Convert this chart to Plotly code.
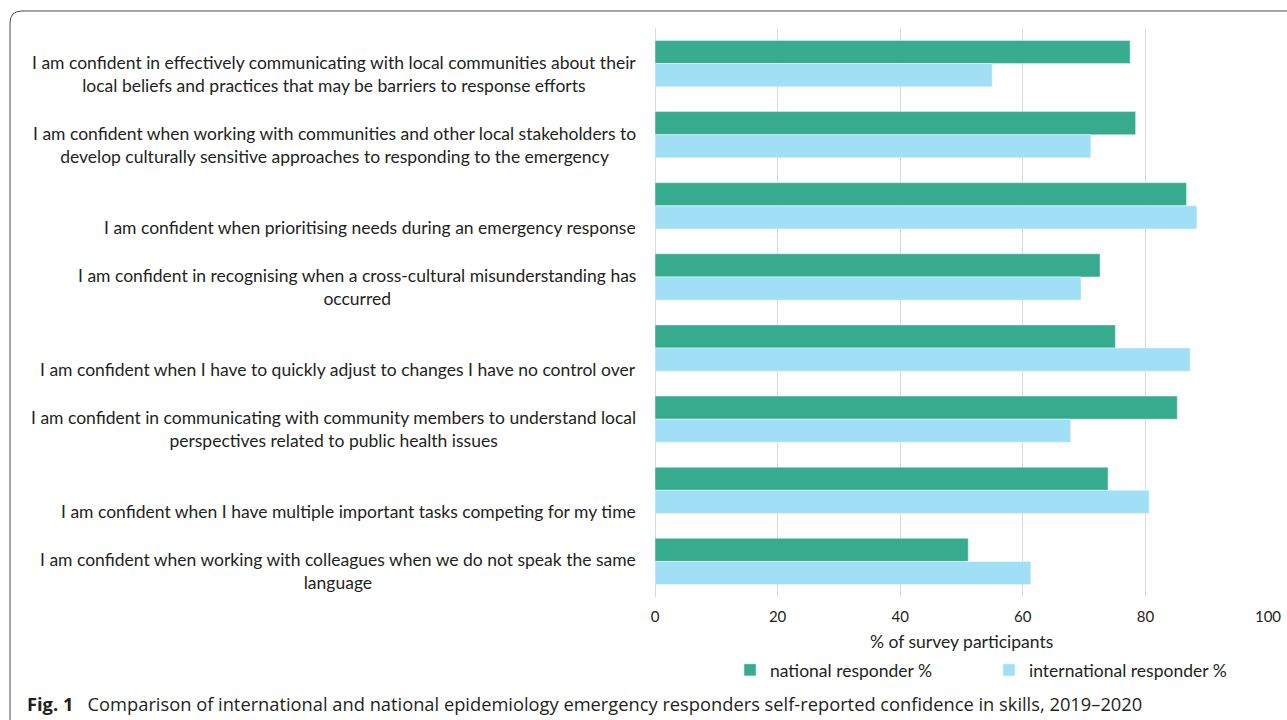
import plotly.graph_objects as go

categories = [
    "I am confident in effectively communicating with local communities about their<br>local beliefs and practices that may be barriers to response efforts",
    "I am confident when working with communities and other local stakeholders to<br>develop culturally sensitive approaches to responding to the emergency",
    "I am confident when prioritising needs during an emergency response",
    "I am confident in recognising when a cross-cultural misunderstanding has<br>occurred",
    "I am confident when I have to quickly adjust to changes I have no control over",
    "I am confident in communicating with community members to understand local<br>perspectives related to public health issues",
    "I am confident when I have multiple important tasks competing for my time",
    "I am confident when working with colleagues when we do not speak the same<br>language",
]
national = [77.5, 78.4, 86.7, 72.6, 75.1, 85.2, 73.9, 51.1]
international = [55.0, 71.1, 88.4, 69.5, 87.3, 67.8, 80.6, 61.3]
x_ticks = [0, 20, 40, 60, 80, 100]

GREEN = "#36ab8d"
BLUE = "#a0dff6"
TEXT = "#231f20"
LABEL_FONT = "Lato"

fig = go.Figure()
fig.add_trace(go.Bar(y=categories, x=national, orientation="h", name="national responder %",
                     marker=dict(color=GREEN, line=dict(color="#e8f6f1", width=0.5))))
fig.add_trace(go.Bar(y=categories, x=international, orientation="h", name="international responder %",
                     marker=dict(color=BLUE, line=dict(color="#eef9fd", width=0.5))))

annotations = []
for c in categories:
    nlines = c.count("<br>") + 1
    annotations.append(dict(
        x=0, xref="paper", y=c, yref="y", xanchor="right", yanchor="middle",
        text=c, showarrow=False, align="center", xshift=-17,
        yshift=-21.5 if nlines == 1 else -10,
        font=dict(family=LABEL_FONT, size=17.5, color=TEXT)))

# axis title
annotations.append(dict(x=0.5, xref="paper", y=-0.079, yref="paper", xanchor="center", yanchor="middle",
                        text="% of survey participants", showarrow=False,
                        font=dict(family=LABEL_FONT, size=17.5, color=TEXT)))
# caption
annotations.append(dict(x=-1.0277, xref="paper", y=-0.1863, yref="paper", xanchor="left", yanchor="middle",
                        text="<b>Fig. 1</b>&nbsp;&nbsp; Comparison of international and national epidemiology emergency responders self-reported confidence in skills, 2019\u20132020",
                        showarrow=False, font=dict(family="Open Sans", size=18.3, color=TEXT)))

# rounded frame
x0, x1, y0, y1 = -1.0522, 1.06, -0.24, 1.0299
rx, ry = 12 / 613, 12 / 569
path = (f"M {x0},{y0} L {x0},{y1 - ry} Q {x0},{y1} {x0 + rx},{y1} L {x1},{y1}")

fig.update_layout(
    width=1287, height=720,
    margin=dict(l=655, r=19, t=28, b=123),
    paper_bgcolor="white", plot_bgcolor="white",
    barmode="group", bargap=0.35, bargroupgap=0,
    annotations=annotations,
    shapes=[dict(type="path", path=path, xref="paper", yref="paper",
                 line=dict(color="#4d4d4d", width=1))],
    legend=dict(orientation="h", x=0.9674, xanchor="right", y=-0.1283, yanchor="middle",
                entrywidth=214, entrywidthmode="pixels", itemwidth=30,
                font=dict(family=LABEL_FONT, size=17.5, color=TEXT), bgcolor="rgba(0,0,0,0)"),
    xaxis=dict(range=[0, 100], tickvals=x_ticks, showgrid=True, gridcolor="#d9d9d9", gridwidth=1,
               zeroline=True, zerolinecolor="#d9d9d9", zerolinewidth=1, showline=False,
               automargin=False,
               ticks="", ticklabelstandoff=9, tickfont=dict(family=LABEL_FONT, size=15, color=TEXT)),
    yaxis=dict(autorange="reversed", showticklabels=False, showgrid=False, ticks="", showline=False,
               automargin=False),
)

fig.write_html("out.html", config={"displayModeBar": False},
               post_script="document.body.style.margin='0';")
